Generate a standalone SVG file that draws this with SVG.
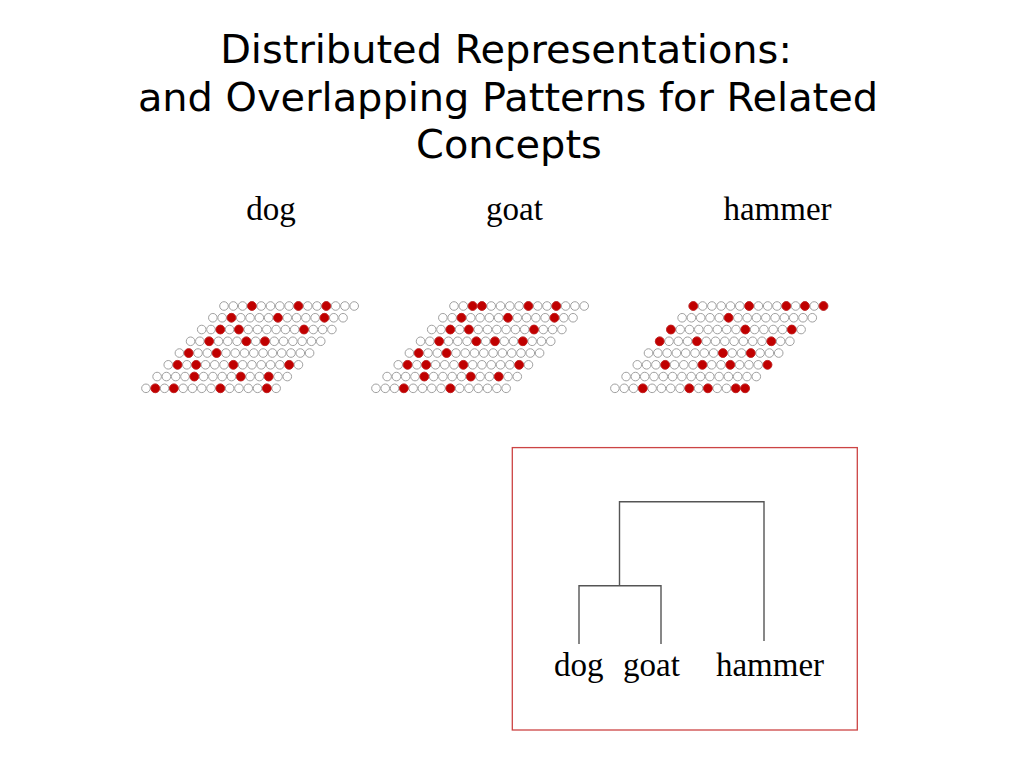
<svg xmlns="http://www.w3.org/2000/svg" xmlns:xlink="http://www.w3.org/1999/xlink" width="1024" height="768" viewBox="0 0 1024 768">
<style>
.title{font-family:"DejaVu Sans","Liberation Sans",sans-serif;font-size:39.9px;fill:#000;text-anchor:middle}
.lbl{font-family:"Liberation Serif","Times New Roman",serif;font-size:33px;fill:#000;text-anchor:middle}
.off{fill:#fff;stroke:#a0a0a0;stroke-width:1}
.on{fill:#c00000;stroke:#cc1a1a;stroke-width:0.8}
.den{fill:none;stroke:#555;stroke-width:1.4}
</style>
<defs>
<circle id="o" r="4.3" class="off"/>
<circle id="n" r="4.4" class="on"/>
<g id="row">
<use href="#o" x="0"/><use href="#o" x="9.3"/><use href="#o" x="18.6"/><use href="#o" x="27.9"/><use href="#o" x="37.2"/><use href="#o" x="46.5"/><use href="#o" x="55.8"/><use href="#o" x="65.1"/><use href="#o" x="74.4"/><use href="#o" x="83.7"/><use href="#o" x="93"/><use href="#o" x="102.3"/><use href="#o" x="111.6"/><use href="#o" x="120.9"/><use href="#o" x="130.2"/>
</g>
</defs>
<rect width="1024" height="768" fill="#fff"/>
<g id="title">
<text class="title" x="506" y="63">Distributed Representations:</text>
<text class="title" x="508" y="110.5">and Overlapping Patterns for Related</text>
<text class="title" x="509" y="158">Concepts</text>
</g>
<g id="label-dog"><text class="lbl" x="271" y="219.5">dog</text></g>
<g id="label-goat"><text class="lbl" x="514.5" y="219.5">goat</text></g>
<g id="label-hammer"><text class="lbl" x="777.5" y="219.5">hammer</text></g>

<g id="grid-dog" transform="translate(224,306)">
<g><use href="#row"/><use href="#n" x="27.9"/><use href="#n" x="74.4"/><use href="#n" x="102.3"/></g>
<g transform="translate(-11.15,11.76)"><use href="#row"/><use href="#n" x="18.6"/><use href="#n" x="65.1"/><use href="#n" x="111.6"/></g>
<g transform="translate(-22.3,23.52)"><use href="#row"/><use href="#n" x="18.6"/><use href="#n" x="37.2"/><use href="#n" x="102.3"/></g>
<g transform="translate(-33.45,35.28)"><use href="#row"/><use href="#n" x="18.6"/><use href="#n" x="55.8"/><use href="#n" x="74.4"/></g>
<g transform="translate(-44.6,47.04)"><use href="#row"/><use href="#n" x="9.3"/><use href="#n" x="37.2"/></g>
<g transform="translate(-55.75,58.8)"><use href="#row"/><use href="#n" x="9.3"/><use href="#n" x="27.9"/><use href="#n" x="65.1"/><use href="#n" x="120.9"/></g>
<g transform="translate(-66.9,70.56)"><use href="#row"/><use href="#n" x="37.2"/><use href="#n" x="83.7"/><use href="#n" x="111.6"/></g>
<g transform="translate(-78.05,82.32)"><use href="#row"/><use href="#n" x="9.3"/><use href="#n" x="27.9"/><use href="#n" x="74.4"/><use href="#n" x="120.9"/></g>
</g>

<g id="grid-goat" transform="translate(454,306)">
<g><use href="#row"/><use href="#n" x="18.6"/><use href="#n" x="27.9"/><use href="#n" x="74.4"/><use href="#n" x="102.3"/></g>
<g transform="translate(-11.15,11.76)"><use href="#row"/><use href="#n" x="18.6"/><use href="#n" x="65.1"/><use href="#n" x="111.6"/></g>
<g transform="translate(-22.3,23.52)"><use href="#row"/><use href="#n" x="18.6"/><use href="#n" x="37.2"/><use href="#n" x="102.3"/></g>
<g transform="translate(-33.45,35.28)"><use href="#row"/><use href="#n" x="18.6"/><use href="#n" x="55.8"/><use href="#n" x="74.4"/><use href="#n" x="102.3"/></g>
<g transform="translate(-44.6,47.04)"><use href="#row"/><use href="#n" x="9.3"/><use href="#n" x="37.2"/></g>
<g transform="translate(-55.75,58.8)"><use href="#row"/><use href="#n" x="9.3"/><use href="#n" x="27.9"/><use href="#n" x="65.1"/><use href="#n" x="120.9"/></g>
<g transform="translate(-66.9,70.56)"><use href="#row"/><use href="#n" x="37.2"/><use href="#n" x="83.7"/><use href="#n" x="111.6"/></g>
<g transform="translate(-78.05,82.32)"><use href="#row"/><use href="#n" x="27.9"/><use href="#n" x="74.4"/></g>
</g>

<g id="grid-hammer" transform="translate(693.3,306)">
<g><use href="#row"/><use href="#n" x="0"/><use href="#n" x="55.8"/><use href="#n" x="93"/><use href="#n" x="111.6"/><use href="#n" x="130.2"/></g>
<g transform="translate(-11.2,11.76)"><use href="#row"/><use href="#n" x="46.5"/></g>
<g transform="translate(-22.4,23.52)"><use href="#row"/><use href="#n" x="0"/><use href="#n" x="74.4"/><use href="#n" x="120.9"/></g>
<g transform="translate(-33.6,35.28)"><use href="#row"/><use href="#n" x="0"/><use href="#n" x="37.2"/><use href="#n" x="111.6"/></g>
<g transform="translate(-44.8,47.04)"><use href="#row"/><use href="#n" x="74.4"/><use href="#n" x="102.3"/></g>
<g transform="translate(-56,58.8)"><use href="#row"/><use href="#n" x="27.9"/><use href="#n" x="65.1"/><use href="#n" x="93"/><use href="#n" x="130.2"/></g>
<g transform="translate(-67.2,70.56)"><use href="#row"/></g>
<g transform="translate(-78.4,82.32)"><use href="#row"/><use href="#n" x="27.9"/><use href="#n" x="74.4"/><use href="#n" x="93"/><use href="#n" x="120.9"/><use href="#n" x="130.2"/></g>
</g>

<g id="dendrogram-box"><rect x="512.3" y="447.6" width="345" height="282.4" fill="none" stroke="#cc4444" stroke-width="1.3"/></g>
<g id="connectors">
<path class="den" d="M579 644V585.7H661V644"/>
<path class="den" d="M619.5 585.7V501.7H764V641"/>
</g>
<g id="leaf-dog"><text class="lbl" x="578.8" y="676">dog</text></g>
<g id="leaf-goat"><text class="lbl" x="651.5" y="676">goat</text></g>
<g id="leaf-hammer"><text class="lbl" x="770" y="676">hammer</text></g>
</svg>
